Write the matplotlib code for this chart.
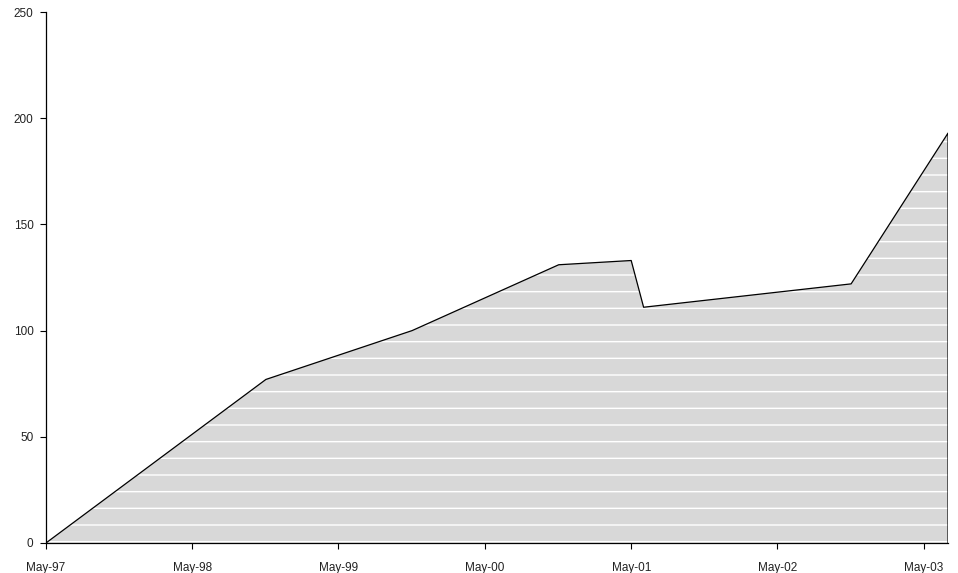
import datetime as dt
import matplotlib
matplotlib.use("Agg")
import matplotlib.pyplot as plt
import matplotlib.dates as mdates

plt.rcParams['font.family'] = ['Liberation Sans', 'DejaVu Sans']

# values
dates = [dt.date(1997, 5, 1), dt.date(1998, 11, 1), dt.date(1999, 11, 1),
         dt.date(2000, 11, 1), dt.date(2001, 5, 1), dt.date(2001, 6, 1),
         dt.date(2002, 11, 1), dt.date(2003, 7, 1)]
values = [0, 77, 100, 131, 133, 111, 122, 193]
tick_dates = [dt.date(y, 5, 1) for y in range(1997, 2004)]
tick_labels = ["May-97", "May-98", "May-99", "May-00", "May-01", "May-02", "May-03"]
yticks = [0, 50, 100, 150, 200, 250]

fig = plt.figure(figsize=(9.58, 5.73), dpi=100)
ax = fig.add_axes([0.048, 0.0524, 0.9416, 0.9266])

ax.fill_between(dates, values, 0, facecolor="#d8d8d8", edgecolor="white",
                hatch="-", linewidth=0)
ax.plot(dates + [dates[-1]], values + [0], color="black", linewidth=0.9)

ax.set_xlim(dates[0], dates[-1])
ax.set_ylim(0, 250)
ax.set_yticks(yticks)
ax.set_xticks(tick_dates)
ax.set_xticklabels(tick_labels)
ax.tick_params(labelsize=8.5, length=4, width=0.8, direction="out",
               labelcolor="#222222")
ax.tick_params(axis="x", pad=10)
ax.tick_params(axis="y", pad=5)

ax.spines["top"].set_visible(False)
ax.spines["right"].set_visible(False)
for s in ("left", "bottom"):
    ax.spines[s].set_linewidth(0.9)

fig.savefig("out.png", dpi=100)
